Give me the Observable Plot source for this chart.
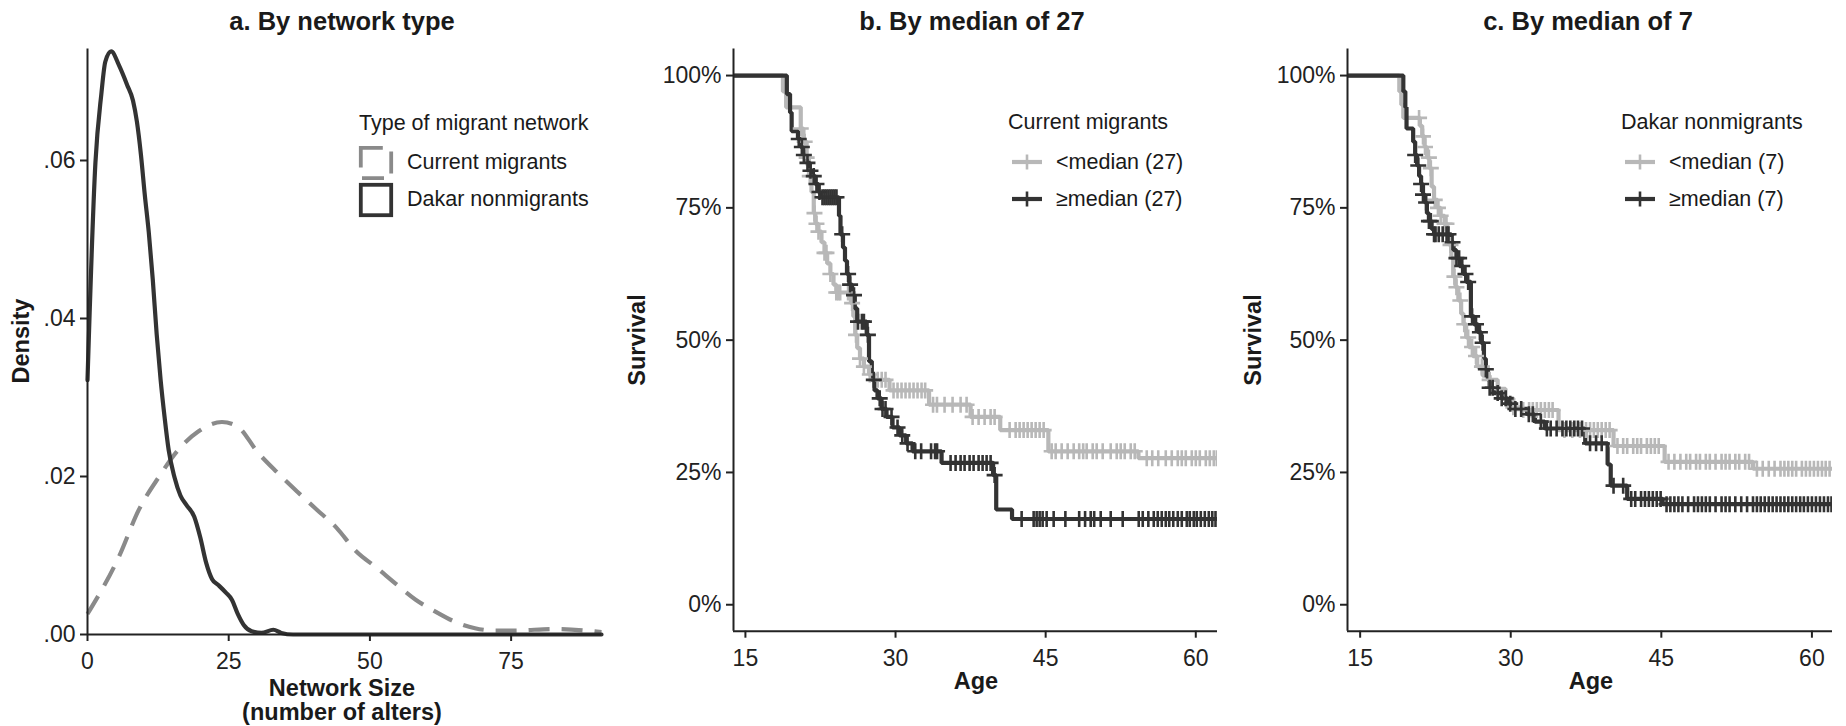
<!DOCTYPE html>
<html lang="en"><head><meta charset="utf-8"><title>Network size and survival</title>
<script src="https://cdn.jsdelivr.net/npm/d3@7"></script>
<script src="https://cdn.jsdelivr.net/npm/@observablehq/plot@0.6"></script>
<style>
html,body{margin:0;padding:0;background:#fff;}
#chart{position:relative;width:1846px;height:726px;overflow:hidden;font-family:"Liberation Sans",Arial,Helvetica,sans-serif;color:#1a1a1a;}
.t{position:absolute;white-space:nowrap;line-height:1;}
.ttl{font-weight:bold;font-size:25.5px;transform:translateX(-50%);}
.axt{font-weight:bold;font-size:23.5px;}
.rot{transform:translate(-50%,-50%) rotate(-90deg);}
.ctr{transform:translateX(-50%);text-align:center;}
.lg{font-size:21.5px;}
.panel{position:absolute;top:40px;}
.key{position:absolute;}
</style></head><body><div id="chart"></div><script>
// ---------------- Panel a: density of network size ----------------
const netSizeDakar = [0, 1.4, 2.45, 3.15, 4.2, 5.6, 7.0, 8.05, 8.75, 9.45, 10.15, 10.85, 11.55, 12.25, 12.95, 13.65, 14.36, 15.4, 16.45, 17.5, 18.9, 19.96, 21.0, 22.06, 23.1, 24.5, 25.56, 26.6, 27.66, 29.06, 30.8, 32.9, 34.3, 36.4, 45, 60, 75, 91];
const densDakar = [0.0322, 0.0597, 0.0684, 0.0725, 0.0738, 0.0720, 0.0696, 0.0676, 0.0649, 0.0608, 0.0556, 0.0509, 0.0450, 0.0380, 0.0322, 0.0275, 0.0234, 0.0199, 0.0176, 0.0164, 0.0149, 0.0123, 0.0091, 0.0070, 0.0063, 0.0053, 0.0044, 0.0026, 0.0012, 0.0004, 0.0002, 0.0006, 0.0002, 0, 0, 0, 0, 0];
const netSizeMig = [0, 5.6, 9.1, 12.6, 16.1, 19.6, 23.8, 26.6, 30.1, 33.6, 37.1, 40.6, 44.1, 47.6, 51.1, 54.6, 58.1, 61.6, 65.1, 68.6, 72.1, 75.6, 82.6, 89.6, 91];
const densMig = [0.0026, 0.0099, 0.0158, 0.0199, 0.0234, 0.0257, 0.0269, 0.0263, 0.0231, 0.0205, 0.0181, 0.0158, 0.0135, 0.0105, 0.0085, 0.0064, 0.0044, 0.0029, 0.0016, 0.0008, 0.0005, 0.0005, 0.0007, 0.0004, 0.0003];
const densXTicks = [0, 25, 50, 75];
const densYTicks = [0, 0.02, 0.04, 0.06];
const densXDomain = [0, 91];
const densYDomain = [0, 0.0741];
const networkTypes = ["Current migrants", "Dakar nonmigrants"];

// ---------------- Panel b: current migrants, median 27 ----------------
const ageB_lo = [0, 18.75, 19.07, 20.53, 20.8, 21.12, 21.35, 21.6, 21.83, 21.99, 22.3, 22.6, 22.9, 23.17, 23.49, 23.8, 24.08, 25.54, 25.78, 25.97, 26.17, 26.45, 26.84, 27.35, 27.83, 29.4, 33.35, 37.5, 40.46, 45.27, 54.27, 62.5];
const survB_lo = [1, 0.97, 0.94, 0.90, 0.875, 0.845, 0.81, 0.78, 0.74, 0.72, 0.705, 0.685, 0.665, 0.645, 0.625, 0.605, 0.59, 0.57, 0.545, 0.51, 0.485, 0.465, 0.45, 0.435, 0.425, 0.405, 0.378, 0.355, 0.33, 0.29, 0.277, 0.277];
const censB_lo = [20.53, 20.92, 21.12, 21.43, 21.9, 22.1, 22.3, 22.9, 23.1, 23.49, 24.08, 24.28, 24.47, 25.26, 25.66, 26.05, 26.45, 26.84, 27.43, 28.22, 28.62, 29.0, 29.8, 30.2, 30.6, 31.0, 31.4, 31.8, 32.2, 32.6, 32.96, 33.75, 34.14, 34.9, 35.7, 36.5, 37.1, 37.7, 38.3, 38.9, 39.5, 39.9, 41.4, 42.0, 42.4, 42.8, 43.2, 43.6, 44.0, 44.4, 44.8, 45.6, 46.0, 46.6, 47.2, 47.8, 48.35, 48.75, 49.1, 49.7, 50.1, 50.7, 51.5, 52.1, 52.5, 52.9, 53.5, 53.9, 55.1, 55.65, 56.25, 57.0, 57.6, 58.2, 58.6, 59.0, 59.6, 60.0, 60.4, 61.0, 61.4, 61.8, 62.1];
const ageB_hi = [0, 19.14, 19.46, 19.62, 20.25, 20.53, 20.8, 21.1, 21.43, 21.7, 21.99, 22.3, 22.5, 24.35, 24.5, 24.75, 24.95, 25.15, 25.38, 25.66, 25.93, 26.17, 27.12, 27.35, 27.63, 27.9, 28.2, 28.6, 29.1, 29.7, 30.4, 31.06, 31.7, 34.6, 39.75, 40.06, 41.64, 62.5];
const survB_hi = [1, 0.965, 0.93, 0.895, 0.88, 0.865, 0.85, 0.835, 0.82, 0.81, 0.795, 0.78, 0.77, 0.735, 0.70, 0.675, 0.65, 0.625, 0.605, 0.585, 0.56, 0.535, 0.51, 0.46, 0.425, 0.405, 0.39, 0.37, 0.355, 0.335, 0.32, 0.305, 0.29, 0.268, 0.245, 0.18, 0.162, 0.162];
const censB_hi = [20.33, 20.64, 20.84, 21.2, 21.5, 21.83, 22.1, 22.4, 22.7, 22.9, 23.1, 23.3, 23.5, 23.7, 23.9, 24.1, 24.67, 25.26, 25.46, 25.85, 26.25, 26.64, 26.84, 27.24, 27.83, 28.42, 28.7, 29.0, 29.6, 30.2, 30.67, 31.2, 31.97, 32.56, 33.55, 33.95, 34.15, 35.5, 36.0, 36.5, 36.9, 37.4, 37.8, 38.3, 38.7, 39.1, 39.5, 39.9, 42.6, 43.8, 44.1, 44.4, 44.7, 45.1, 45.8, 46.97, 48.35, 48.94, 49.5, 49.85, 50.5, 51.5, 52.7, 54.3, 54.7, 55.26, 55.8, 56.2, 56.6, 57.0, 57.35, 57.75, 58.2, 58.6, 59.1, 59.4, 59.8, 60.1, 60.5, 60.9, 61.3, 61.65, 61.97];

// ---------------- Panel c: Dakar nonmigrants, median 7 ----------------
const ageC_lo = [0, 18.9, 19.1, 19.3, 20.95, 21.18, 21.42, 21.65, 21.89, 22.12, 22.36, 22.71, 23.02, 23.41, 23.69, 23.88, 24.08, 24.27, 24.5, 24.78, 25.06, 25.29, 25.56, 25.84, 26.23, 26.66, 27.2, 27.9, 28.7, 29.48, 30.26, 31.04, 34.76, 40.24, 45.33, 54.13, 62.5];
const survC_lo = [1, 0.97, 0.945, 0.92, 0.905, 0.885, 0.865, 0.845, 0.825, 0.79, 0.765, 0.75, 0.735, 0.72, 0.70, 0.68, 0.655, 0.62, 0.60, 0.575, 0.55, 0.53, 0.505, 0.487, 0.47, 0.45, 0.433, 0.425, 0.408, 0.39, 0.373, 0.368, 0.33, 0.30, 0.27, 0.257, 0.257];
const censC_lo = [20.87, 21.26, 21.46, 21.85, 22.04, 22.43, 22.75, 23.02, 23.41, 23.6, 24.0, 24.39, 24.59, 24.98, 25.37, 25.76, 26.15, 26.54, 27.13, 27.9, 28.7, 29.48, 30.26, 31.24, 31.83, 32.2, 32.6, 33.0, 33.4, 33.8, 34.17, 35.35, 36.13, 36.9, 37.5, 37.9, 38.28, 38.67, 39.06, 39.46, 39.85, 40.63, 41.2, 41.6, 42.2, 42.6, 42.98, 43.56, 43.96, 44.35, 44.74, 45.72, 46.3, 46.9, 47.48, 47.87, 48.46, 48.85, 49.43, 49.83, 50.4, 51.0, 51.4, 51.8, 52.37, 52.76, 53.35, 53.74, 54.52, 55.1, 55.7, 56.28, 56.87, 57.26, 57.65, 58.04, 58.43, 59.0, 59.4, 59.8, 60.2, 60.6, 61.0, 61.37, 61.76];
const ageC_hi = [0, 19.3, 19.5, 19.62, 20.28, 20.48, 20.67, 20.87, 21.07, 21.26, 21.46, 21.65, 21.85, 22.12, 22.36, 24.08, 24.31, 24.59, 24.9, 25.25, 25.56, 26.03, 26.35, 26.74, 27.05, 27.33, 27.52, 27.72, 27.9, 28.3, 29.09, 29.67, 30.26, 31.63, 32.41, 33.39, 37.42, 39.65, 39.96, 41.6, 45.13, 62.5];
const survC_hi = [1, 0.97, 0.94, 0.90, 0.875, 0.85, 0.83, 0.81, 0.795, 0.775, 0.76, 0.74, 0.725, 0.71, 0.70, 0.685, 0.67, 0.655, 0.64, 0.625, 0.61, 0.545, 0.53, 0.515, 0.495, 0.465, 0.445, 0.425, 0.41, 0.40, 0.39, 0.38, 0.37, 0.36, 0.346, 0.333, 0.305, 0.265, 0.225, 0.20, 0.19, 0.19];
const censC_hi = [20.48, 20.79, 21.07, 21.26, 21.57, 21.85, 22.04, 22.36, 22.51, 22.83, 23.22, 23.61, 23.8, 24.2, 24.59, 24.86, 25.17, 25.49, 25.76, 26.15, 26.54, 26.93, 27.2, 27.52, 27.9, 28.2, 28.7, 29.1, 29.5, 29.95, 30.46, 31.04, 31.8, 32.2, 33.0, 33.6, 33.98, 34.57, 35.15, 35.54, 35.93, 36.33, 36.7, 37.1, 37.9, 38.5, 39.06, 40.24, 41.2, 42.0, 42.4, 42.98, 43.37, 43.76, 44.15, 44.54, 44.93, 45.52, 45.9, 46.3, 46.7, 47.1, 47.67, 48.26, 48.65, 49.04, 49.43, 49.83, 50.4, 51.0, 51.4, 51.8, 52.37, 52.96, 53.54, 54.13, 54.52, 54.9, 55.3, 55.7, 56.09, 56.48, 56.87, 57.26, 57.65, 58.04, 58.43, 58.83, 59.2, 59.6, 60.0, 60.4, 60.8, 61.2, 61.6, 61.95];

const ageTicks = [15, 30, 45, 60];
const survTicks = [0, 0.25, 0.5, 0.75, 1];
const survYDomain = [-0.05, 1.05];
const groupLabelsB = ["<median (27)", "≥median (27)"];
const groupLabelsC = ["<median (7)", "≥median (7)"];

// ---------------- styles ----------------
const DARK = "#333333", LIGHT = "#b8b8b8", DASHED = "#8a8a8a", AXIS = "#222222";
const FONT = "'Liberation Sans', Arial, Helvetica, sans-serif";
const chart = document.getElementById("chart");

function addText(cls, text, left, top, extra) {
  const d = document.createElement("div");
  d.className = "t " + cls;
  d.textContent = text;
  d.style.left = left + "px";
  d.style.top = top + "px";
  if (extra) Object.assign(d.style, extra);
  chart.appendChild(d);
  return d;
}
function addPanel(svg, left, width) {
  const d = document.createElement("div");
  d.className = "panel";
  d.style.left = left + "px";
  d.style.width = width + "px";
  d.appendChild(svg);
  chart.appendChild(d);
}
const plusSymbol = {
  draw(ctx, size) {
    const r = Math.sqrt(size / Math.PI);
    ctx.moveTo(-r, 0); ctx.lineTo(r, 0);
    ctx.moveTo(0, -r); ctx.lineTo(0, r);
  }
};
function stepAt(times, surv, t) {
  let s = surv[0];
  for (let i = 0; i < times.length; i++) { if (times[i] <= t) s = surv[i]; else break; }
  return s;
}
const rows = (xs, ys) => xs.map((x, i) => ({x, y: ys[i]}));
const censRows = (cens, times, surv) => cens.map(t => ({x: t, y: stepAt(times, surv, t)}));

const plotStyle = {background: "transparent", fontFamily: FONT, fontSize: "23px", color: AXIS, overflow: "visible"};
const LW = 4.2;

// ---------------- Panel a ----------------
const panelA = Plot.plot({
  width: 620, height: 686,
  marginLeft: 87, marginRight: 19, marginTop: 8.6, marginBottom: 92,
  style: plotStyle,
  x: {domain: densXDomain, label: null},
  y: {domain: densYDomain, label: null},
  marks: [
    Plot.line(rows(netSizeMig, densMig), {x: "x", y: "y", stroke: DASHED, strokeWidth: LW, strokeDasharray: "21,12", strokeLinecap: "butt", curve: "monotone-x"}),
    Plot.line(rows(netSizeDakar, densDakar), {x: "x", y: "y", stroke: DARK, strokeWidth: LW, curve: "monotone-x"}),
    Plot.ruleX([densXDomain[0]], {stroke: AXIS, strokeWidth: 2}),
    Plot.ruleY([densYDomain[0]], {stroke: AXIS, strokeWidth: 2}),
    Plot.axisX({ticks: densXTicks, tickSize: 7, tickPadding: 11, strokeWidth: 2, label: null}),
    Plot.axisY({ticks: densYTicks, tickSize: 7, tickPadding: 5, strokeWidth: 2, label: null,
      tickFormat: d => d3.format(".2f")(d).replace(/^0/, "")})
  ]
});
addPanel(panelA, 0, 620);

// ---------------- survival panels ----------------
function survPanel(lo, hi, xDomain, ml, mr, width) {
  return Plot.plot({
    width, height: 686,
    marginLeft: ml, marginRight: mr, marginTop: 8.6, marginBottom: 95.3,
    style: plotStyle,
    x: {domain: xDomain, label: null},
    y: {domain: survYDomain, label: null},
    marks: [
      Plot.line(rows(lo.t, lo.s), {x: "x", y: "y", curve: "step-after", stroke: LIGHT, strokeWidth: LW, strokeLinecap: "butt", strokeLinejoin: "miter", clip: true}),
      Plot.line(rows(hi.t, hi.s), {x: "x", y: "y", curve: "step-after", stroke: DARK, strokeWidth: LW, strokeLinecap: "butt", strokeLinejoin: "miter", clip: true}),
      Plot.dot(censRows(lo.c, lo.t, lo.s), {x: "x", y: "y", symbol: plusSymbol, r: 8, stroke: LIGHT, fill: "none", strokeWidth: 2.6, clip: true}),
      Plot.dot(censRows(hi.c, hi.t, hi.s), {x: "x", y: "y", symbol: plusSymbol, r: 8, stroke: DARK, fill: "none", strokeWidth: 2.6, clip: true}),
      Plot.ruleX([xDomain[0]], {stroke: AXIS, strokeWidth: 2}),
      Plot.ruleY([survYDomain[0]], {stroke: AXIS, strokeWidth: 2}),
      Plot.axisX({ticks: ageTicks, tickSize: 7, tickPadding: 11, strokeWidth: 2, label: null}),
      Plot.axisY({ticks: survTicks, tickSize: 7, tickPadding: 5, strokeWidth: 2, label: null, tickFormat: d3.format(".0%")})
    ]
  });
}
addPanel(survPanel({t: ageB_lo, s: survB_lo, c: censB_lo}, {t: ageB_hi, s: survB_hi, c: censB_hi}, [13.81, 62.17], 113, 23, 620), 620, 620);
addPanel(survPanel({t: ageC_lo, s: survC_lo, c: censC_lo}, {t: ageC_hi, s: survC_hi, c: censC_hi}, [13.74, 62.05], 107, 14, 606), 1240, 606);

// ---------------- titles ----------------
addText("ttl", "a. By network type", 342, 9.3);
addText("ttl", "b. By median of 27", 972, 9.3);
addText("ttl", "c. By median of 7", 1588, 9.3);

// ---------------- axis titles ----------------
addText("axt ctr", "Network Size\n(number of alters)", 342, 677, {whiteSpace: "pre", lineHeight: "23.5px"});
addText("axt ctr", "Age", 976, 669.5);
addText("axt ctr", "Age", 1591, 669.5);
addText("axt rot", "Density", 22, 341);
addText("axt rot", "Survival", 638, 340);
addText("axt rot", "Survival", 1254, 340);

// ---------------- legends ----------------
const NS = "http://www.w3.org/2000/svg";
function keySvg(left, top, w, h, build) {
  const s = document.createElementNS(NS, "svg");
  s.setAttribute("width", w); s.setAttribute("height", h);
  s.setAttribute("class", "key");
  s.style.left = left + "px"; s.style.top = top + "px"; s.style.overflow = "visible";
  build(s);
  chart.appendChild(s);
}
function el(parent, tag, attrs) {
  const e = document.createElementNS(NS, tag);
  for (const k in attrs) e.setAttribute(k, attrs[k]);
  parent.appendChild(e);
}
// panel a legend
addText("lg", "Type of migrant network", 359, 113.3);
keySvg(359, 146, 34, 34, s => el(s, "rect", {x: 1.8, y: 1.8, width: 30.4, height: 30.4, fill: "none", stroke: DASHED, "stroke-width": 3.8, "stroke-dasharray": "22,12"}));
keySvg(359, 183, 34, 34, s => el(s, "rect", {x: 1.8, y: 1.8, width: 30.4, height: 30.4, fill: "none", stroke: DARK, "stroke-width": 3.8}));
addText("lg", networkTypes[0], 407, 152.3);
addText("lg", networkTypes[1], 407, 189.3);

function survLegend(title, labels, x0) {
  addText("lg", title, x0, 112.3);
  [[LIGHT, 162], [DARK, 199]].forEach(([c, cy], i) => {
    keySvg(x0 + 4, cy - 8, 30, 16, s => {
      el(s, "line", {x1: 0, x2: 30, y1: 8, y2: 8, stroke: c, "stroke-width": 4.2});
      el(s, "line", {x1: 15, x2: 15, y1: 0.5, y2: 15.5, stroke: c, "stroke-width": 2.6});
    });
    addText("lg", labels[i], x0 + 48, cy - 10.2);
  });
}
survLegend("Current migrants", groupLabelsB, 1008);
survLegend("Dakar nonmigrants", groupLabelsC, 1621);
</script></body></html>
